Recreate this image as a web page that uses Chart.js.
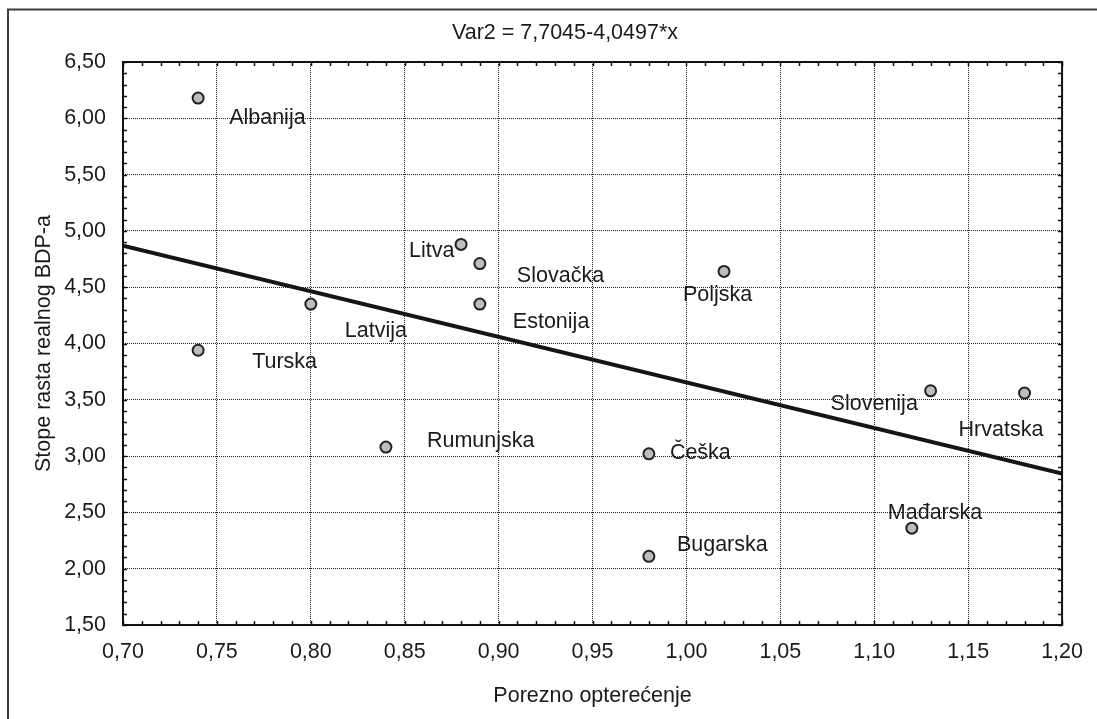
<!DOCTYPE html>
<html><head><meta charset="utf-8">
<script src="https://cdn.jsdelivr.net/npm/chart.js@4.4.1/dist/chart.umd.min.js"></script>
<style>html,body{margin:0;padding:0;background:#fff}canvas{display:block}</style>
</head><body>
<canvas id="c" width="1097" height="719"></canvas>
<script>
// ---- data ----
const countries = ['Albanija','Turska','Latvija','Litva','Slovačka','Estonija','Rumunjska','Poljska','Češka','Bugarska','Slovenija','Mađarska','Hrvatska'];
const taxBurden = [0.74,0.74,0.80,0.88,0.89,0.89,0.84,1.02,0.98,0.98,1.13,1.12,1.18];
const gdpGrowth = [6.18,3.94,4.35,4.88,4.71,4.35,3.08,4.64,3.02,2.11,3.58,2.36,3.56];
const fitX = [0.70, 1.20];
const fitY = [4.8697, 2.8449];
const xTickValues = [0.70,0.75,0.80,0.85,0.90,0.95,1.00,1.05,1.10,1.15,1.20];
const xTickLabels = ['0,70','0,75','0,80','0,85','0,90','0,95','1,00','1,05','1,10','1,15','1,20'];
const yTickValues = [1.5,2.0,2.5,3.0,3.5,4.0,4.5,5.0,5.5,6.0,6.5];
const yTickLabels = ['1,50','2,00','2,50','3,00','3,50','4,00','4,50','5,00','5,50','6,00','6,50'];
const titleText = 'Var2 = 7,7045-4,0497*x';
const xTitle = 'Porezno opterećenje';
const yTitle = 'Stope rasta realnog BDP-a';

// ---- styling (label placement offsets in px, relative to each point) ----
const labelOffsets = [[31,20],[54,12],[34,27],[-52,7],[37,13],[33,18],[41,-6],[-41,24],[21,-1],[28,-11],[-100,13],[-24,-15],[-66,37]];
const FONT = '"Liberation Sans", Arial, sans-serif';
const FS = 21.5;
const TXT = '#1a1a1a';

Chart.defaults.font.family = FONT;
Chart.defaults.font.size = FS;
Chart.defaults.color = TXT;

const decor = {
  id: 'decor',
  beforeDraw(chart) {
    const ctx = chart.ctx;
    ctx.save();
    ctx.strokeStyle = '#3a3a3a';
    ctx.lineWidth = 2;
    ctx.beginPath();
    ctx.moveTo(8, 719);
    ctx.lineTo(8, 9.5);
    ctx.lineTo(1097, 9.5);
    ctx.stroke();
    ctx.restore();
  },
  afterDatasetsDraw(chart) {
    const ctx = chart.ctx, xs = chart.scales.x, ys = chart.scales.y;
    ctx.save();
    ctx.font = FS + 'px ' + FONT;
    ctx.fillStyle = TXT;
    ctx.textAlign = 'left';
    ctx.textBaseline = 'middle';
    countries.forEach((name, i) => {
      const px = xs.getPixelForValue(taxBurden[i]);
      const py = ys.getPixelForValue(gdpGrowth[i]);
      ctx.fillText(name, px + labelOffsets[i][0], py + labelOffsets[i][1]);
    });
    ctx.restore();
  },
  afterDraw(chart) {
    const ctx = chart.ctx, a = chart.chartArea, xs = chart.scales.x, ys = chart.scales.y;
    ctx.save();
    ctx.strokeStyle = '#111';
    ctx.lineWidth = 1.5;
    ctx.beginPath();
    for (let i = 70; i <= 120; i++) {
      const px = Math.round(xs.getPixelForValue(i / 100)) + 0.5;
      ctx.moveTo(px, a.bottom); ctx.lineTo(px, a.bottom - 4);
      ctx.moveTo(px, a.top); ctx.lineTo(px, a.top + 4);
    }
    for (let i = 15; i <= 65; i++) {
      const py = Math.round(ys.getPixelForValue(i / 10)) + 0.5;
      ctx.moveTo(a.left, py); ctx.lineTo(a.left + 4, py);
      ctx.moveTo(a.right, py); ctx.lineTo(a.right - 4, py);
    }
    ctx.stroke();
    ctx.lineWidth = 2;
    ctx.strokeStyle = '#111';
    ctx.strokeRect(a.left, a.top, a.right - a.left, a.bottom - a.top);
    ctx.font = FS + 'px ' + FONT;
    ctx.fillStyle = TXT;
    ctx.textAlign = 'center';
    ctx.textBaseline = 'middle';
    ctx.fillText(titleText, 565, 33);
    ctx.restore();
  }
};

new Chart(document.getElementById('c'), {
  type: 'scatter',
  data: {
    datasets: [
      {
        label: 'Države',
        data: taxBurden.map((x, i) => ({ x: x, y: gdpGrowth[i] })),
        pointRadius: 5.5,
        pointHoverRadius: 5.5,
        pointBackgroundColor: '#bdbdbd',
        pointBorderColor: '#222',
        pointBorderWidth: 2
      },
      {
        label: 'Regresija',
        data: fitX.map((x, i) => ({ x: x, y: fitY[i] })),
        showLine: true,
        borderColor: '#151515',
        borderWidth: 4,
        pointRadius: 0,
        fill: false
      }
    ]
  },
  options: {
    responsive: false,
    devicePixelRatio: 1,
    animation: false,
    layout: { padding: { top: 62, right: 34, bottom: 0, left: 0 } },
    plugins: { legend: { display: false }, tooltip: { enabled: false }, title: { display: false } },
    scales: {
      x: {
        type: 'linear',
        min: 0.70, max: 1.20,
        afterBuildTicks: s => { s.ticks = xTickValues.map(v => ({ value: v })); },
        afterFit: s => { s.height = 94; },
        ticks: { padding: 14, maxRotation: 0, autoSkip: false, callback: (v, i) => xTickLabels[i] },
        grid: { color: '#222', lineWidth: 1, drawTicks: false },
        border: { display: false, dash: [1, 1] },
        title: { display: true, text: xTitle, padding: { top: 0, bottom: 10 } }
      },
      y: {
        type: 'linear',
        min: 1.5, max: 6.5,
        afterBuildTicks: s => { s.ticks = yTickValues.map(v => ({ value: v })); },
        afterFit: s => { s.width = 123; },
        ticks: { padding: 17, autoSkip: false, callback: (v, i) => yTickLabels[i] },
        grid: { color: '#222', lineWidth: 1, drawTicks: false },
        border: { display: false, dash: [1, 1] },
        title: { display: true, text: yTitle, padding: { top: 31, bottom: 0 } }
      }
    }
  },
  plugins: [decor]
});
</script>
</body></html>
